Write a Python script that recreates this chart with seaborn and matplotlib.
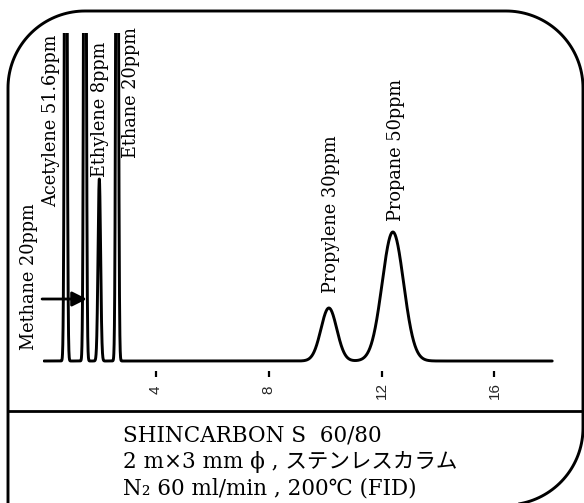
import numpy as np
import matplotlib
matplotlib.use('Agg')
import matplotlib.pyplot as plt
import seaborn as sns

# peak table (time in min, height in px above baseline, sigma in min)
peak_times = [0.80, 1.48, 1.99, 2.62, 10.13, 12.40]
peak_heights = [934, 934, 182, 934, 53, 129]
peak_sigmas = [0.037, 0.037, 0.045, 0.037, 0.28, 0.38]

# labels: text, x (min), bottom of text (px above baseline)
label_texts = ['Methane 20ppm', 'Acetylene 51.6ppm', 'Ethylene 8ppm', 'Ethane 20ppm',
               'Propylene 30ppm', 'Propane 50ppm']
label_x = [-0.52, 0.29, 2.00, 3.10, 10.22, 12.51]
label_y = [11, 154, 184, 203, 68, 140]

tick_values = [4, 8, 12, 16]

info_lines = ['SHINCARBON S  60/80',
              '2 m×3 mm ϕ , ステンレスカラム',
              'N₂ 60 ml/min , 200℃ (FID)']

sns.set_theme(style='white')

W, H = 584, 503
fig = plt.figure(figsize=(W / 100, H / 100), dpi=100)

# background axes in pixel units for the frame and condition text
bg = fig.add_axes([0, 0, 1, 1])
bg.set_xlim(0, W)
bg.set_ylim(H, 0)
bg.axis('off')

# frame: straight left side running off the bottom, rounded top corners and bottom-right corner
R = 77
left, right, top, bottom = 8, 583, 11, 505
def arc(cx, cy, a0, a1):
    a = np.radians(np.linspace(a0, a1, 40))
    return cx + R * np.cos(a), cy + R * np.sin(a)
xs, ys = [left], [H + 10]
for cx, cy, a0, a1 in [(left + R, top + R, 180, 270), (right - R, top + R, 270, 360),
                       (right - R, bottom - R, 0, 90)]:
    ax_, ay_ = arc(cx, cy, a0, a1)
    xs.extend(ax_)
    ys.extend(ay_)
bg.plot(xs, ys, color='black', linewidth=2.1, solid_capstyle='butt')
bg.plot([left, right], [411, 411], color='black', linewidth=2.0)
for i, line in enumerate(info_lines):
    bg.text(123, 442 + i * 26, line, fontsize=15.5, color='black', va='baseline', ha='left',
            family=['DejaVu Serif', 'Noto Sans CJK JP'])

# chromatogram axes: x=0 min at 43.2 px, 28.2 px per min, baseline at 361 px
px_per_min = 28.2
x0_px = 43.2
xmax = 18.1
ax_left, ax_right = x0_px, x0_px + xmax * px_per_min
ax_top, ax_bot = 33, 371
base_px = 361
ax = fig.add_axes([ax_left / W, (H - ax_bot) / H, (ax_right - ax_left) / W, (ax_bot - ax_top) / H])
ax.patch.set_alpha(0)

t = np.linspace(0.03, 18.05, 9000)
signal = np.zeros_like(t)
for rt, h, s in zip(peak_times, peak_heights, peak_sigmas):
    signal += h * np.exp(-0.5 * ((t - rt) / s) ** 2)

sns.lineplot(x=t, y=signal, ax=ax, color='black', linewidth=2.1, estimator=None, sort=False)

ax.set_xlim(0, xmax)
ax.set_ylim(base_px - ax_bot, base_px - ax_top)
ax.set_yticks([])
ax.set_xticks(tick_values)
ax.set_xticklabels([str(v) for v in tick_values], family='Liberation Sans', fontsize=11)
ax.tick_params(axis='x', direction='out', length=4.3, width=1.6, pad=9.5,
               labelrotation=90, bottom=True, color='black')
for lab in ax.get_xticklabels():
    lab.set_va('center')
ax.set_xlabel('')
ax.set_ylabel('')
sns.despine(ax=ax, left=True, bottom=True, top=True, right=True)

for txt, x, y in zip(label_texts, label_x, label_y):
    ax.text(x, y, txt, rotation=90, ha='center', va='bottom', fontsize=12.8,
            family='DejaVu Serif', color='black', clip_on=False)

# arrow pointing at methane
ax.annotate('', xy=(1.55, 62), xytext=(-0.04, 62),
            arrowprops=dict(arrowstyle='-|>', color='black', lw=2.0, mutation_scale=22,
                            shrinkA=0, shrinkB=0),
            annotation_clip=False)

fig.savefig('out.png', dpi=100)
